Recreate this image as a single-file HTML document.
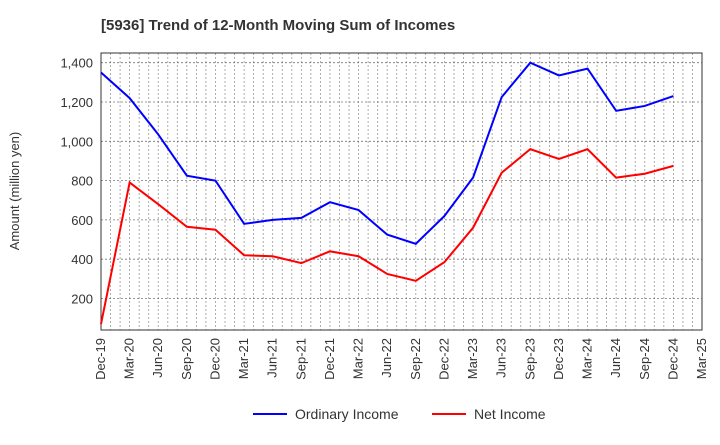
<!DOCTYPE html>
<html><head><meta charset="utf-8"><style>
body{margin:0;background:#fff;font-family:"Liberation Sans",sans-serif}
</style></head><body>
<svg width="720" height="440" xmlns="http://www.w3.org/2000/svg" font-family="Liberation Sans, sans-serif">
<text x="101" y="30" font-size="15" font-weight="bold" fill="#333">[5936]  Trend of 12-Month Moving Sum of Incomes</text>
<g id="grid"></g>
<g id="axes"></g>
<g id="series"></g>
<text transform="translate(19,191) rotate(-90)" text-anchor="middle" font-size="13" fill="#333">Amount (million yen)</text>
<g>
<line x1="253" y1="414" x2="287" y2="414" stroke="#0000ff" stroke-width="2"/>
<text x="295" y="419" font-size="14" fill="#333">Ordinary Income</text>
<line x1="432" y1="414" x2="466" y2="414" stroke="#ff0000" stroke-width="2"/>
<text x="474" y="419" font-size="14" fill="#333">Net Income</text>
</g>
</svg>
<script>
const categories=["Dec-19","Mar-20","Jun-20","Sep-20","Dec-20","Mar-21","Jun-21","Sep-21","Dec-21","Mar-22","Jun-22","Sep-22","Dec-22","Mar-23","Jun-23","Sep-23","Dec-23","Mar-24","Jun-24","Sep-24","Dec-24","Mar-25"];
const ordinaryIncome=[1350,1220,1035,825,800,580,600,610,690,650,525,478,620,815,1225,1400,1335,1370,1155,1180,1230];
const netIncome=[70,790,680,565,550,420,415,380,440,415,325,290,385,560,840,960,910,960,815,835,875];
const yTicks=[200,400,600,800,1000,1200,1400];
const NS="http://www.w3.org/2000/svg";
const L=101,R=702,T=53,B=330;
const step=(R-L)/(categories.length-1);
const xs=i=>L+i*step;
const ys=v=>298.5-(v-200)*(39.3/200);
function mk(tag,attrs,parent){const e=document.createElementNS(NS,tag);for(const k in attrs)e.setAttribute(k,attrs[k]);parent.appendChild(e);return e;}
const grid=document.getElementById('grid'),axes=document.getElementById('axes'),ser=document.getElementById('series');
for(let m=1;m<(categories.length-1)*3;m++){
 const x=L+m*step/3;
 const g=mk('line',{x1:x,x2:x,y1:T,y2:B,stroke:'#999','stroke-width':0.8,'stroke-dasharray':'2,2'},grid);
 
 
}
yTicks.forEach(v=>{
 const y=ys(v);
 const g=mk('line',{x1:L,x2:R,y1:y,y2:y,stroke:'#777','stroke-width':0.8,'stroke-dasharray':'2,2'},grid);
 
 
 const t=mk('text',{x:L-8,y:y+5,'text-anchor':'end','font-size':13,fill:'#333'},axes);
 
 
 t.textContent=v.toLocaleString('en-US');
});
const frame=mk('rect',{x:L,y:T,width:R-L,height:B-T,fill:'none',stroke:'#333','stroke-width':1},axes);


categories.forEach((c,i)=>{
 const x=xs(i);
 const t=mk('text',{transform:`translate(${x+4},${B+8}) rotate(-90)`,'text-anchor':'end','font-size':13,fill:'#333'},axes);
 
 
 t.textContent=c;
});
function line(data,color,name){
 const p=mk('polyline',{points:data.map((v,i)=>xs(i)+','+ys(v)).join(' '),fill:'none',stroke:color,'stroke-width':2},ser);
 
 
}
line(ordinaryIncome,'#0000ff','ordinary-income-line');
line(netIncome,'#ff0000','net-income-line');
</script>
</body></html>
